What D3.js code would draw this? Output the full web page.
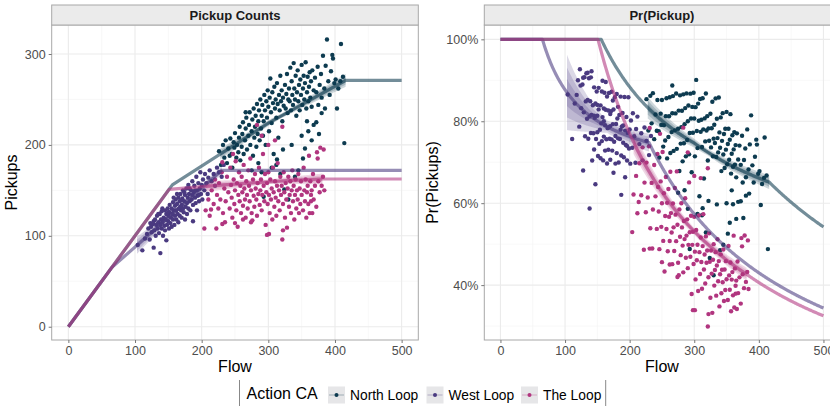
<!DOCTYPE html>
<html><head><meta charset="utf-8">
<script src="https://cdn.jsdelivr.net/npm/d3@7"></script>
<style>body{margin:0;background:#fff}svg{display:block;font-family:"Liberation Sans",Arial,sans-serif}</style>
</head><body><svg id="chart" width="830" height="406"></svg>
<script>
// ---------------- data ----------------
const groups = ["North Loop", "West Loop", "The Loop"];
const panelTitles = ["Pickup Counts", "Pr(Pickup)"];
const xTicks = [0, 100, 200, 300, 400, 500];
const countTicks = [0, 100, 200, 300];
const probTicks = [0.4, 0.6, 0.8, 1.0];

// observed points: [flow, pickups]
const northLoop = [
[226,193],[229,178],[232,200],[234,186],[236,205],[238,180],[240,196],[242,188],[243,207],[245,190],[246,175],[248,203],[249,197],[250,213],[252,186],[253,200],[255,192],[256,208],[257,220],[258,183],
[260,198],[261,212],[262,225],[263,190],[265,205],[266,218],[266,236],[267,230],[268,195],[270,210],[271,222],[272,236],[273,200],[275,215],[276,228],[277,188],[278,240],[279,208],[280,220],[281,232],[282,198],[283,245],[284,212],[285,226],[286,238],[287,205],[288,250],[289,218],[290,232],[285,180],[275,172],[290,170],
[291,244],[292,210],[293,226],[293,143],[294,255],[295,238],[296,200],[297,248],[298,230],[299,260],[300,242],[301,215],[302,252],[303,273],[304,236],[305,224],[306,258],[307,246],[308,190],[309,264],[310,240],[311,250],[312,230],[313,268],[313,184],[314,245],[315,208],[316,255],[317,238],[318,276],[319,248],[320,260],[321,226],[322,252],[323,243],[324,151],[325,266],[326,240],[327,256],[328,278],[329,235],[330,250],[330,140],[305,175],[312,178],[318,168],[322,195],
[331,262],[332,248],[333,285],[334,238],[335,270],[336,255],[337,244],[338,290],[339,262],[340,250],[341,276],[342,232],[343,258],[344,282],[345,248],[346,266],[347,238],[348,272],[349,255],[350,288],[351,244],[352,262],[353,276],[354,250],[355,268],[356,291],[357,240],[358,258],[359,275],[360,248],[361,264],[362,280],[363,252],[364,270],[365,242],[366,282],[368,260],[370,274],
[335,200],[340,165],[345,172],[350,210],[355,196],[360,215],[365,205],[352,185],[358,226],[368,222],
[372,258],[374,286],[375,244],[377,266],[379,278],[380,252],[382,298],[384,262],[386,287],[388,316],[390,270],[392,255],[394,281],[396,299],[397,295],[399,268],[401,272],[403,240],[405,262],[408,270],[409,311],[412,275],[414,202],[372,225],[376,212],[380,235],[385,240]
];
const westLoop = [
[104,90],[111,84],[115,97],[118,102],[120,108],[122,96],[123,114],[124,110],[125,104],[127,113],[128,87],[128,116],[129,106],[130,118],[131,100],[132,112],[133,122],[134,108],[135,115],[135,124],[136,103],[137,124],[138,81],[138,112],[139,118],[140,108],[140,127],[141,130],[141,115],[142,100],[143,120],[144,111],[145,128],[145,106],[146,118],[147,95],[147,124],[148,112],[149,130],[150,116],[150,122],[151,108],[152,126],[152,134],[153,114],[154,120],[155,130],[155,110],[156,124],[157,137],[157,118],[158,128],[159,112],[160,133],[160,122],[161,140],[162,118],[162,128],[163,135],[164,124],[165,142],[165,115],[166,130],[167,138],[167,122],[168,146],[169,128],[170,134],[170,120],[171,141],[172,130],[172,150],[173,126],[174,138],[175,145],[175,118],[176,132],[177,152],[178,136],[178,124],[179,142],[180,130],[180,156],[181,146],[182,138],[183,128],[184,150],[185,140],[186,160],[187,116],[187,134],[188,148],[189,155],[190,142],[191,136],[192,165],[193,128],[193,150],[194,144],[195,158],[196,138],[197,152],[198,170],[199,146],[200,156],[201,140],[202,162],[204,150],[205,168],[207,158],[209,146],[210,164],[212,172],[215,160],[218,168],[220,155],[223,175],[226,170],[230,165],[233,178],
[158,142],[163,146],[168,132],[174,148],[182,152],[186,145],[190,150],[196,145],[150,126],[145,118],[160,128],[170,139]
];
const theLoop = [
[204,108],[206,128],[210,140],[212,122],[214,129],[215,150],[218,135],[220,162],[222,108],[223,145],[225,130],[226,158],[228,140],[230,170],[231,181],[231,113],[232,125],[234,152],[235,115],[236,138],[238,165],[240,148],[242,130],[243,175],[244,156],[245,142],[246,120],[247,190],[248,162],[249,135],[250,150],[250,114],[251,182],[252,128],[253,158],[254,110],[255,145],[256,170],[257,138],[258,155],[259,125],[260,165],[261,148],[262,133],[262,118],[263,178],[264,152],[265,140],[266,120],[267,160],[268,145],[269,130],[270,172],[271,155],[272,138],[273,185],[274,150],[274,115],[275,125],[276,117],[277,162],[278,144],[279,132],[280,168],[281,152],[282,140],[283,122],[283,222],[284,158],[285,146],[286,175],[287,134],[288,150],[289,162],[290,128],[290,210],[291,145],[292,190],[293,155],[294,138],[295,168],[296,112],[297,148],[298,101],[298,158],[299,135],[300,170],[300,200],[301,145],[301,102],[302,125],[303,162],[304,140],[305,152],[306,118],[307,175],[308,148],[309,132],[310,160],[310,205],[311,142],[312,122],[313,155],[314,180],[315,138],[316,150],[317,128],[318,165],[319,145],[321,96],[321,220],[320,155],[322,135],[322,106],[323,170],[324,148],[325,120],[326,158],[327,140],[328,109],[329,152],[330,165],[331,132],[332,145],[333,160],[334,125],[335,150],[336,172],[337,138],[338,155],[339,118],[340,145],[341,162],[342,130],[343,150],[344,140],[345,168],[346,125],[347,152],[348,135],[349,160],[350,145],[352,128],[353,175],[354,150],[355,138],[356,162],[357,120],[358,148],[359,155],[360,135],[361,188],[362,125],[363,160],[364,138],[364,145],[365,150],[366,125],[367,168],[368,140],[370,155],[372,132],[373,192],[374,185],[375,160],[377,148],[378,197],[380,155],[382,165],[383,195],[384,150]
];

// fitted pickup curves (knots: [flow, fitted pickups])
const northFit = [[0,0],[156,156],[300,224],[416,271],[500,271]];
const westFit  = [[0,0],[65,65],[230,172],[500,172]];
const loopFit  = [[0,0],[151,151],[233,156],[333,161],[381,162.5],[500,162.5]];
// uncertainty band half-widths (in pickups) along the observed flow range
const northBand = [[228,6],[320,2.5],[416,7]];
const westBand  = [[103,9.5],[165,2.5],[230,5]];
const loopBand  = [[206,6],[300,2.5],[381,6]];

// ---------------- drawing ----------------
const colors = ["#0d3b50", "#4a3a80", "#b1357f"];
const series = [
  {name: groups[0], pts: northLoop, fit: northFit, band: northBand, color: colors[0]},
  {name: groups[1], pts: westLoop,  fit: westFit,  band: westBand,  color: colors[1]},
  {name: groups[2], pts: theLoop,   fit: loopFit,  band: loopBand,  color: colors[2]}
];
series.forEach(s => {
  s.fitFn = d3.scaleLinear().domain(s.fit.map(d => d[0])).range(s.fit.map(d => d[1])).clamp(true);
  s.bandFn = d3.scaleLinear().domain(s.band.map(d => d[0])).range(s.band.map(d => d[1])).clamp(true);
});

const svg = d3.select("#chart");
const pTop = 25, pBottom = 340;
const panels = [
  {title: panelTitles[0], x0: 51.7, x1: 418.3, yDomain: [-14.6, 331.9], yTicks: countTicks, yMinor: [50,150,250],
   fmt: d => d, ylab: "Pickups", ylabX: 16.5, val: (f, p) => p},
  {title: panelTitles[1], x0: 484.3, x1: 839.6, yDomain: [0.266, 1.035], yTicks: probTicks, yMinor: [0.3,0.5,0.7,0.9],
   fmt: d3.format(".0%"), ylab: "Pr(Pickups)", ylabX: 438, val: (f, p) => (f <= 0 ? 1 : Math.min(1, p / f))}
];

panels.forEach((P, pi) => {
  const x = d3.scaleLinear().domain([-25, 525]).range([P.x0, P.x1]);
  const y = d3.scaleLinear().domain(P.yDomain).range([pBottom, pTop]);
  const g = svg.append("g");
  const clipId = "clip" + pi;
  svg.append("clipPath").attr("id", clipId).append("rect")
    .attr("x", P.x0).attr("y", pTop).attr("width", P.x1 - P.x0).attr("height", pBottom - pTop);

  // grid
  const minorX = [50,150,250,350,450];
  g.selectAll(".mx").data(minorX).join("line").attr("x1", d => x(d)).attr("x2", d => x(d))
    .attr("y1", pTop).attr("y2", pBottom).attr("stroke", "#f4f4f4").attr("stroke-width", 0.6);
  g.selectAll(".my").data(P.yMinor).join("line").attr("y1", d => y(d)).attr("y2", d => y(d))
    .attr("x1", P.x0).attr("x2", P.x1).attr("stroke", "#f4f4f4").attr("stroke-width", 0.6);
  g.selectAll(".gx").data(xTicks).join("line").attr("x1", d => x(d)).attr("x2", d => x(d))
    .attr("y1", pTop).attr("y2", pBottom).attr("stroke", "#ebebeb").attr("stroke-width", 1.1);
  g.selectAll(".gy").data(P.yTicks).join("line").attr("y1", d => y(d)).attr("y2", d => y(d))
    .attr("x1", P.x0).attr("x2", P.x1).attr("stroke", "#ebebeb").attr("stroke-width", 1.1);

  const plot = g.append("g").attr("clip-path", `url(#${clipId})`);

  // points
  series.forEach(s => {
    plot.append("g").selectAll("circle").data(s.pts).join("circle")
      .attr("cx", d => x(d[0])).attr("cy", d => y(P.val(d[0], d[1])))
      .attr("r", 2.2).attr("fill", s.color);
  });

  // bands
  series.forEach(s => {
    const f0 = s.band[0][0], f1 = s.band[s.band.length - 1][0];
    const xs = d3.range(f0, f1, 2).concat([f1]);
    [1, 0.66, 0.36].forEach(k => {
      const area = d3.area()
        .x(f => x(f))
        .y0(f => y(P.val(f, s.fitFn(f) - k * s.bandFn(f))))
        .y1(f => y(P.val(f, s.fitFn(f) + k * s.bandFn(f))));
      plot.append("path").datum(xs).attr("d", area).attr("fill", s.color).attr("fill-opacity", 0.2);
    });
  });

  // fitted lines
  series.forEach(s => {
    const xs = pi === 0 ? s.fit.map(d => d[0]) : d3.range(0, 501, 1);
    const line = d3.line().x(f => x(f)).y(f => y(P.val(f, s.fitFn(f))));
    plot.append("path").datum(xs).attr("d", line).attr("fill", "none")
      .attr("stroke", s.color).attr("stroke-opacity", 0.58).attr("stroke-width", 3.2)
      .attr("stroke-linejoin", "round");
  });

  // panel border
  g.append("rect").attr("x", P.x0).attr("y", pTop).attr("width", P.x1 - P.x0).attr("height", pBottom - pTop)
    .attr("fill", "none").attr("stroke", "#a8a8a8").attr("stroke-width", 1);
  // strip
  g.append("rect").attr("x", P.x0).attr("y", 5).attr("width", P.x1 - P.x0).attr("height", pTop - 5)
    .attr("fill", "#ebebeb").attr("stroke", "#a8a8a8").attr("stroke-width", 1);
  g.append("text").attr("x", (P.x0 + P.x1) / 2).attr("y", 19.5).attr("text-anchor", "middle")
    .attr("font-size", 13).attr("font-weight", "bold").attr("fill", "#1a1a1a").text(P.title);

  // axes
  const xa = g.append("g").attr("transform", `translate(0,${pBottom})`)
    .call(d3.axisBottom(x).tickValues(xTicks).tickSize(3).tickPadding(3).tickFormat(d3.format("d")));
  const ya = g.append("g").attr("transform", `translate(${P.x0},0)`)
    .call(d3.axisLeft(y).tickValues(P.yTicks).tickSize(3).tickPadding(3).tickFormat(P.fmt));
  [xa, ya].forEach(a => {
    a.select(".domain").remove();
    a.selectAll("line").attr("stroke", "#777");
    a.selectAll("text").attr("fill", "#4d4d4d").attr("font-size", 12.5)
      .attr("font-family", '"Liberation Sans",Arial,sans-serif');
  });

  g.append("text").attr("x", (P.x0 + P.x1) / 2).attr("y", 372).attr("text-anchor", "middle")
    .attr("font-size", 16).attr("fill", "#000").text("Flow");
  g.append("text").attr("transform", `translate(${P.ylabX},${(pTop + pBottom) / 2}) rotate(-90)`)
    .attr("text-anchor", "middle").attr("font-size", 16).attr("fill", "#000").text(P.ylab);
});

// legend
const lg = svg.append("g");
lg.append("line").attr("x1", 239.5).attr("x2", 239.5).attr("y1", 380).attr("y2", 406).attr("stroke", "#888");
lg.append("line").attr("x1", 605.7).attr("x2", 605.7).attr("y1", 380).attr("y2", 406).attr("stroke", "#888");
lg.append("text").attr("x", 246.5).attr("y", 398.5).attr("font-size", 16).attr("fill", "#000").text("Action CA");
const keyX = [328, 426.5, 521];
series.forEach((s, i) => {
  const kx = keyX[i];
  lg.append("rect").attr("x", kx).attr("y", 386.5).attr("width", 17).attr("height", 17).attr("fill", "#e6e6e8");
  lg.append("line").attr("x1", kx + 1).attr("x2", kx + 16).attr("y1", 395).attr("y2", 395)
    .attr("stroke", s.color).attr("stroke-opacity", 0.22).attr("stroke-width", 1.5);
  lg.append("circle").attr("cx", kx + 8.5).attr("cy", 395).attr("r", 2).attr("fill", s.color);
  lg.append("text").attr("x", kx + 22).attr("y", 399.5).attr("font-size", 13.8).attr("fill", "#000").text(s.name);
});
</script></body></html>
